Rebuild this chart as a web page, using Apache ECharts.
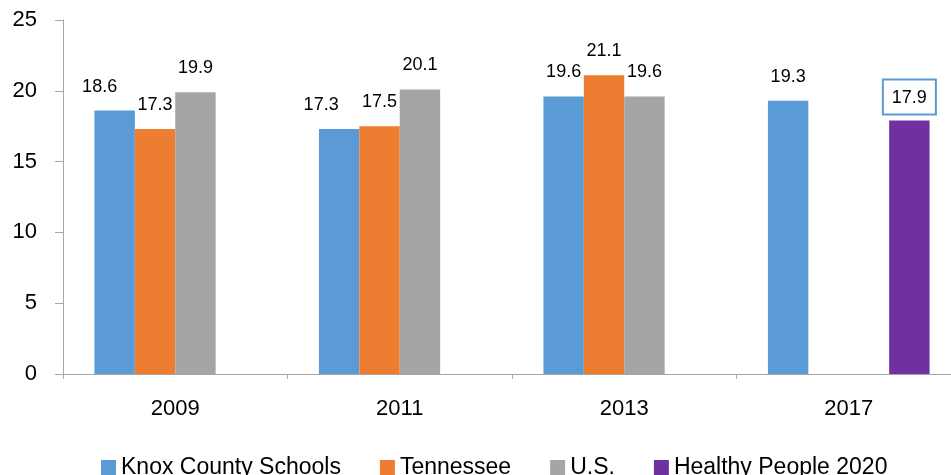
<!DOCTYPE html>
<html>
<head>
<meta charset="utf-8">
<script src="https://cdn.jsdelivr.net/npm/echarts@6/dist/echarts.min.js"></script>
<style>
  html, body { margin: 0; padding: 0; background: #fff; }
  #chart { width: 951px; height: 475px; }
</style>
</head>
<body>
<div id="chart"></div>
<script>
// data
const years = ['2009', '2011', '2013', '2017']
const knox = [18.6, 17.3, 19.6, 19.3]
const tennessee = [17.3, 17.5, 21.1, null]
const us = [19.9, 20.1, 19.6, null]
const healthyPeople = [null, null, null, 17.9]
const yTicks = [0, 5, 10, 15, 20, 25]

const font = 'Liberation Sans, Arial, sans-serif'

let chartDom = document.getElementById('chart');
let myChart = echarts.init(chartDom);

function barSeries(name, values, color, extraLabel) {
    return {
        name: name,
        type: 'bar',
        data: values.map(function (v, i) {
            let item = { value: v }
            if (extraLabel && extraLabel[i]) item.label = extraLabel[i]
            return item
        }),
        barGap: 0,
        barCategoryGap: '28%',
        itemStyle: { color: color },
        label: {
            show: true,
            position: 'top',
            distance: 15,
            color: '#000',
            fontSize: 18,
            fontFamily: font
        }
    }
}

let option = {
    animation: false,
    grid: {
        left: 63,
        top: 20,
        width: 898,
        bottom: 101,
        outerBoundsMode: 'none'
    },
    legend: {
        left: 96,
        top: 451,
        itemWidth: 15,
        itemHeight: 15,
        itemGap: 39,
        icon: 'rect',
        textStyle: { fontSize: 23, color: '#000', fontFamily: font },
        data: ['Knox County Schools', 'Tennessee', 'U.S.', 'Healthy People 2020']
    },
    xAxis: {
        type: 'category',
        data: years,
        axisLine: { lineStyle: { color: '#A6A6A6' } },
        axisTick: { show: true, length: 5, lineStyle: { color: '#A6A6A6' } },
        axisLabel: { fontSize: 22, color: '#000', margin: 24, fontFamily: font }
    },
    yAxis: {
        type: 'value',
        min: yTicks[0],
        max: yTicks[yTicks.length - 1],
        interval: 5,
        splitLine: { show: false },
        axisLine: { show: true, lineStyle: { color: '#A6A6A6' } },
        axisTick: { show: true, length: 8, lineStyle: { color: '#A6A6A6' } },
        axisLabel: { fontSize: 22, color: '#000', margin: 26, fontFamily: font }
    },
    series: [
        barSeries('Knox County Schools', knox, '#5B9BD5', [{ offset: [-15, 0] }, { offset: [-18, 0] }]),
        barSeries('Tennessee', tennessee, '#ED7D31'),
        barSeries('U.S.', us, '#A5A5A5'),
        barSeries('Healthy People 2020', healthyPeople, '#7030A0', [null, null, null, {
            distance: 7,
            borderColor: '#5B9BD5',
            borderWidth: 2,
            backgroundColor: '#fff',
            padding: [8, 8, 7, 8]
        }])
    ]
};

option && myChart.setOption(option);
</script>
</body>
</html>
